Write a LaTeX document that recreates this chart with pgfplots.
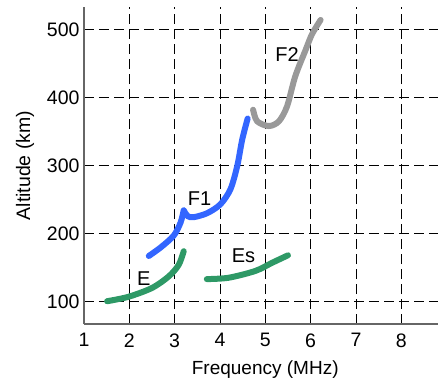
\documentclass[border=0pt]{standalone}
\usepackage{fontspec}
\setmainfont{Liberation Sans}
\usepackage{pgfplots}
\pgfplotsset{compat=1.18}
\definecolor{fblue}{HTML}{3366FF}
\definecolor{egreen}{HTML}{2E9966}
\definecolor{fgray}{HTML}{999999}
\begin{document}
\begin{tikzpicture}
\useasboundingbox (-84pt,-59pt) rectangle (354pt,324pt);
\begin{axis}[at={(0,0)}, anchor=south west, scale only axis,
  width=354pt, height=317pt,
  xmin=1, xmax=8.81, ymin=67, ymax=533,
  axis x line=bottom, axis y line=left,
  axis line style={draw=black!60, line width=1.3pt, -},
  xtick={1,...,8}, ytick={100,200,...,500},
  major tick length=0pt,
  grid=major,
  major grid style={black, line width=0.9pt, dash pattern=on 10pt off 5pt},
  tick label style={font=\fontsize{19.5}{22}\selectfont},
  xticklabel style={yshift=-6pt},
  yticklabel style={xshift=-1pt},
  /pgf/number format/assume math mode=true,
  xlabel={\fontsize{19}{22}\selectfont Frequency (MHz)},
  ylabel={\fontsize{19.5}{22}\selectfont Altitude (km)},
  xlabel style={at={(axis description cs:0.512,-0.1451)}, anchor=center},
  ylabel style={at={(axis description cs:-0.1667,0.5)}, anchor=center},
  clip=false,
]
\addplot[egreen, line width=6pt, line cap=round, smooth] coordinates {
(1.51,100.5) (1.98,107) (2.50,120) (2.87,137) (3.09,154) (3.20,174)};
\addplot[egreen, line width=6pt, line cap=round, smooth] coordinates {
(3.71,133) (4.19,135) (4.78,145) (5.15,157) (5.50,168)};
\addplot[fblue, line width=6pt, line cap=round, smooth] coordinates {
(2.43,167) (2.7,180) (2.98,197) (3.13,216) (3.2,234)};
\addplot[fblue, line width=6pt, line cap=round, smooth] coordinates {
(3.2,234) (3.29,225.5) (3.42,224) (3.72,230) (4.01,243) (4.23,265) (4.38,299) (4.49,338) (4.61,369)};
\addplot[fgray, line width=6pt, line cap=round, smooth] coordinates {
(4.73,382) (4.82,365) (5.08,358) (5.30,365) (5.48,387) (5.66,431) (5.89,470) (6.03,493) (6.22,514)};
\node[font=\fontsize{20}{22}\selectfont] at (axis cs:2.32,133) {E};
\node[font=\fontsize{20}{22}\selectfont] at (axis cs:4.52,167) {Es};
\node[font=\fontsize{20}{22}\selectfont] at (axis cs:3.55,251) {F1};
\node[font=\fontsize{20}{22}\selectfont] at (axis cs:5.48,463) {F2};
\end{axis}
\end{tikzpicture}
\end{document}
